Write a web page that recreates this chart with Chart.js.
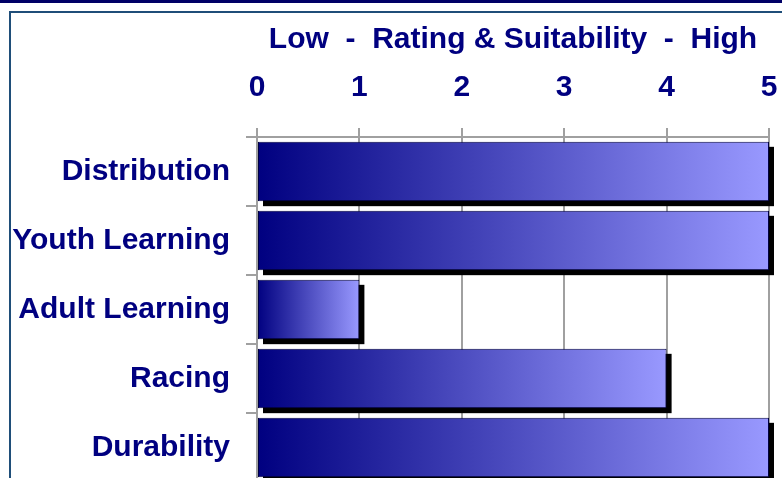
<!DOCTYPE html>
<html>
<head>
<meta charset="utf-8">
<script src="https://cdn.jsdelivr.net/npm/chart.js@4/dist/chart.umd.min.js"></script>
<style>
  html, body { margin: 0; padding: 0; background: #fff; overflow: hidden; }
  #topline { position: absolute; left: 0; top: 0; width: 782px; height: 3px; background: #000066; }
  #frame { position: absolute; left: 9px; top: 11px; width: 800px; height: 500px;
           border-left: 2px solid #1f4e79; border-top: 2px solid #1f4e79; }
  #wrap { position: absolute; left: 0; top: 0; width: 782px; height: 482px; }
</style>
</head>
<body>
<div id="topline"></div>
<div id="frame"></div>
<div id="wrap"><canvas id="chart"></canvas></div>
<script>
const categories = ['Distribution', 'Youth Learning', 'Adult Learning', 'Racing', 'Durability']
const ratings = [5, 5, 1, 4, 5]
const axisTitle = 'Low  -  Rating & Suitability  -  High'

const navy = '#000080'
const grey = '#a0a0a0'
const font = { family: "'Liberation Sans', Arial, sans-serif", size: 30, weight: 'bold' }

// black drop shadow behind each bar
const barShadow = {
  id: 'barShadow',
  beforeDatasetsDraw(chart) {
    const c = chart.ctx
    c.save()
    c.fillStyle = '#000'
    chart.getDatasetMeta(0).data.forEach(bar => {
      const { x, y, base, height } = bar.getProps(['x', 'y', 'base', 'height'], true)
      c.fillRect(base + 5, y - height / 2 + 5, x - base, height)
    })
    c.restore()
  }
}

function barFill(ctx) {
  const chart = ctx.chart
  if (!chart.chartArea || ctx.type !== 'data') return navy
  const xs = chart.scales.x
  const x0 = xs.getPixelForValue(0)
  const x1 = xs.getPixelForValue(ctx.raw)
  const g = chart.ctx.createLinearGradient(x0, 0, x1, 0)
  g.addColorStop(0, navy)
  g.addColorStop(1, '#9999ff')
  return g
}

// keep the label overflow from shrinking the plot
function noPadding(scale) {
  scale.paddingLeft = 0
  scale.paddingRight = 0
  scale.paddingTop = 0
  scale.paddingBottom = 0
}

new Chart(document.getElementById('chart'), {
  type: 'bar',
  data: {
    labels: categories,
    datasets: [{
      data: ratings,
      backgroundColor: barFill,
      borderColor: '#000040',
      borderWidth: 1,
      borderSkipped: false,
      barPercentage: 0.86,
      categoryPercentage: 1
    }]
  },
  options: {
    indexAxis: 'y',
    responsive: true,
    maintainAspectRatio: false,
    animation: false,
    layout: { padding: { left: 0, right: 13, top: 0, bottom: 0 } },
    plugins: { legend: { display: false }, tooltip: { enabled: false } },
    scales: {
      x: {
        position: 'top',
        min: 0,
        max: 5,
        ticks: { stepSize: 1, color: navy, font: font, padding: 22 },
        grid: { color: grey, lineWidth: 2, tickLength: 9 },
        border: { color: grey, width: 2 },
        title: { display: true, text: axisTitle, color: navy, font: font, padding: { top: 22, bottom: 0 } },
        afterFit(scale) { scale.height = 137; noPadding(scale) }
      },
      y: {
        ticks: { color: navy, font: font, padding: 16 },
        grid: { drawOnChartArea: false, color: grey, lineWidth: 2, tickLength: 11, offset: true },
        border: { color: grey, width: 2 },
        afterFit(scale) { scale.width = 257; noPadding(scale) }
      }
    }
  },
  plugins: [barShadow]
})
</script>
</body>
</html>
